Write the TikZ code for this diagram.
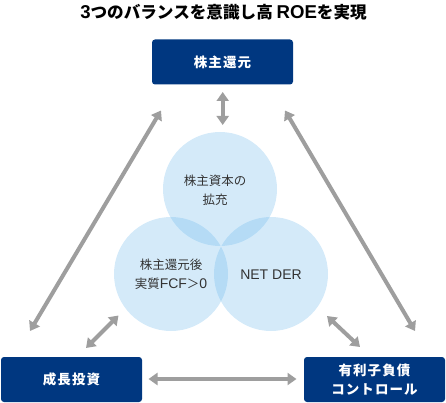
\documentclass[tikz,border=0pt]{standalone}
\usepackage{fontspec}
\setmainfont{Noto Sans CJK JP}
\newfontfamily\lat[Scale=1.12]{Liberation Sans}
\usetikzlibrary{arrows.meta}
\definecolor{boxblue}{RGB}{0,55,128}
\definecolor{arrgray}{RGB}{158,158,158}
\definecolor{circblue}{RGB}{100,180,235}
\definecolor{txtgray}{RGB}{51,51,51}
\tikzset{
  bluebox/.style={fill=boxblue, rounded corners=3pt, text=white, font=\fontsize{13.5}{18.5}\selectfont\bfseries\addfontfeature{LetterSpace=8}, align=center, inner sep=0pt, minimum width=141pt, minimum height=45pt},
  venn/.style={circle, fill=circblue, fill opacity=0.28, draw=none, inner sep=0pt, minimum size=114pt},
  venntext/.style={text=txtgray, font=\fontsize{12.5}{19.5}\selectfont, align=center, inner sep=0pt},
  dblarrow/.style={draw=arrgray, line width=4pt, {Triangle[width=12pt,length=9pt]}-{Triangle[width=12pt,length=9pt]}},
}
\begin{document}
\begin{tikzpicture}[x=1pt,y=-1pt]
\useasboundingbox (0,0) rectangle (446,403);
\node[font=\fontsize{16.6}{18}\selectfont\bfseries, text=black, inner sep=0pt] (title) at (223.5,12.5) {{\lat\bfseries 3}つのバランスを意識し高 {\lat\bfseries ROE}を実現};
\node[bluebox] (top) at (222.5,62) {株主還元};
\node[bluebox] (bl) at (71.5,379.5) {成長投資};
\node[bluebox] (br) at (374.5,379.5) {有利子負債\\コントロール};
\node[venn] (c1) at (220,189) {};
\node[venn] (c2) at (171,274) {};
\node[venn] (c3) at (271,274) {};
\node[venntext] (t1) at (215,190) {株主資本の\\拡充};
\node[venntext] (t2) at (171,274.5) {株主還元後\\実質{\lat FCF}＞{\lat 0}};
\node[venntext] (t3) at (271,275) {\lat NET DER};
\coordinate (a1s) at (222.7,92);
\coordinate (a1e) at (222.7,125);
\coordinate (a2s) at (30,331);
\coordinate (a2e) at (161,110.5);
\coordinate (a3s) at (285,110.5);
\coordinate (a3e) at (415,331);
\coordinate (a4s) at (86,348);
\coordinate (a4e) at (118.5,315.5);
\coordinate (a5s) at (327,316);
\coordinate (a5e) at (360,347);
\coordinate (a6s) at (148.5,379);
\coordinate (a6e) at (296.5,379);
\draw[dblarrow] (a1s) -- (a1e);
\draw[dblarrow] (a2s) -- (a2e);
\draw[dblarrow] (a3s) -- (a3e);
\draw[dblarrow] (a4s) -- (a4e);
\draw[dblarrow] (a5s) -- (a5e);
\draw[dblarrow] (a6s) -- (a6e);
\end{tikzpicture}
\end{document}
